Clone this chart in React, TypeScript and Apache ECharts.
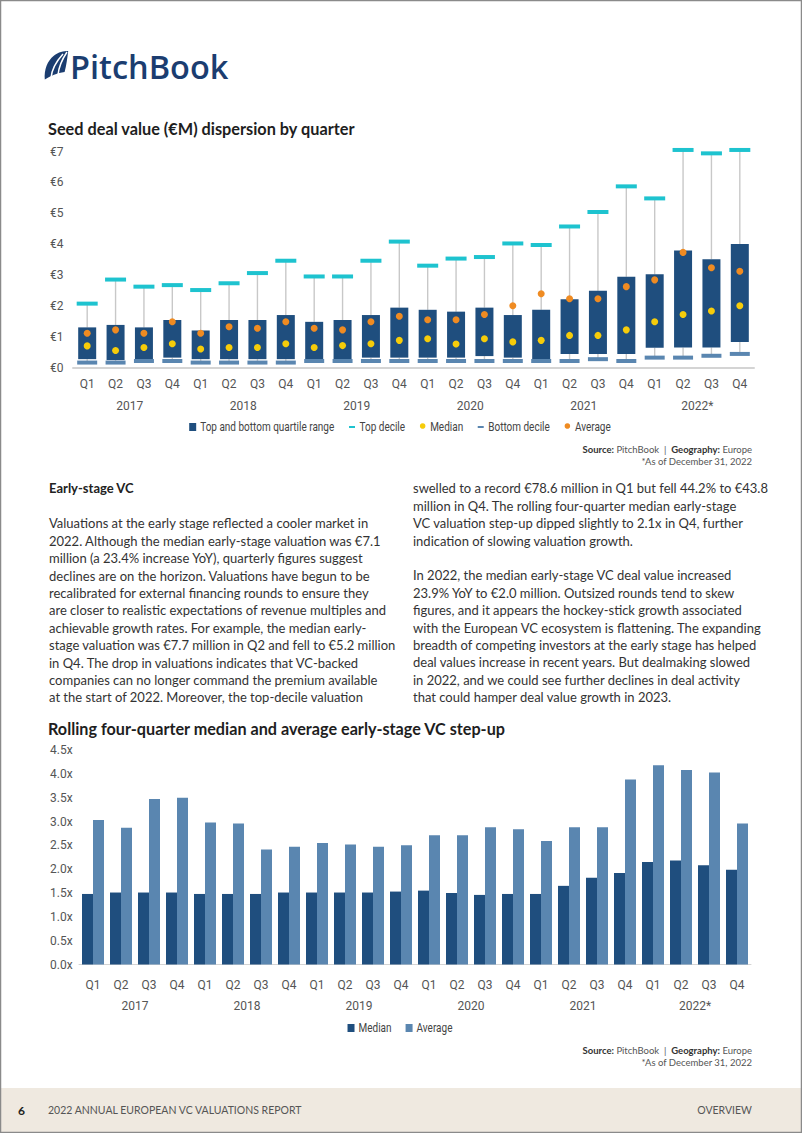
import React, { useEffect, useRef } from "react";
import * as echarts from "echarts";

const quarters = [
  "Q1", "Q2", "Q3", "Q4", "Q1", "Q2", "Q3", "Q4", "Q1", "Q2", "Q3", "Q4",
  "Q1", "Q2", "Q3", "Q4", "Q1", "Q2", "Q3", "Q4", "Q1", "Q2", "Q3", "Q4",
];
const years = ["2017", "2018", "2019", "2020", "2021", "2022*"];

// Seed deal value (€M) dispersion
const topDecile = [2.07, 2.85, 2.62, 2.67, 2.51, 2.73, 3.06, 3.46, 2.95, 2.95, 3.46, 4.08, 3.3, 3.53, 3.58, 4.02, 3.97, 4.57, 5.04, 5.87, 5.48, 7.05, 6.94, 7.05];
const upperQuartile = [1.3, 1.38, 1.3, 1.54, 1.2, 1.54, 1.54, 1.7, 1.48, 1.54, 1.7, 1.94, 1.87, 1.81, 1.94, 1.7, 1.87, 2.21, 2.49, 2.94, 3.02, 3.79, 3.51, 4.0];
const lowerQuartile = [0.27, 0.24, 0.27, 0.32, 0.27, 0.27, 0.27, 0.27, 0.27, 0.27, 0.32, 0.32, 0.32, 0.32, 0.37, 0.32, 0.24, 0.44, 0.44, 0.44, 0.64, 0.65, 0.65, 0.83];
const bottomDecile = [0.16, 0.16, 0.21, 0.21, 0.16, 0.16, 0.16, 0.16, 0.21, 0.21, 0.21, 0.21, 0.21, 0.21, 0.21, 0.21, 0.21, 0.21, 0.27, 0.21, 0.32, 0.32, 0.38, 0.44];
const medianDeal = [0.7, 0.55, 0.65, 0.77, 0.6, 0.65, 0.65, 0.77, 0.65, 0.71, 0.77, 0.88, 0.93, 0.76, 0.93, 0.83, 0.88, 1.04, 1.04, 1.22, 1.48, 1.72, 1.83, 2.0];
const averageDeal = [1.11, 1.22, 1.11, 1.48, 1.11, 1.32, 1.27, 1.48, 1.27, 1.22, 1.48, 1.66, 1.55, 1.55, 1.72, 2.0, 2.39, 2.23, 2.23, 2.62, 2.84, 3.73, 3.23, 3.12];

// Rolling four-quarter step-up
const medianStep = [1.48, 1.51, 1.51, 1.51, 1.48, 1.48, 1.48, 1.51, 1.51, 1.51, 1.51, 1.53, 1.55, 1.5, 1.46, 1.48, 1.48, 1.65, 1.82, 1.92, 2.15, 2.18, 2.08, 1.99];
const averageStep = [3.03, 2.87, 3.47, 3.5, 2.98, 2.96, 2.41, 2.47, 2.55, 2.52, 2.47, 2.5, 2.71, 2.71, 2.88, 2.84, 2.59, 2.88, 2.88, 3.88, 4.18, 4.08, 4.03, 2.96];

const legendLabels = ["Top and bottom quartile range", "Top decile", "Median", "Bottom decile", "Average"];
const legend2Labels = ["Median", "Average"];

const leftColumn = [
  "Valuations at the early stage reflected a cooler market in",
  "2022. Although the median early-stage valuation was €7.1",
  "million (a 23.4% increase YoY), quarterly figures suggest",
  "declines are on the horizon. Valuations have begun to be",
  "recalibrated for external financing rounds to ensure they",
  "are closer to realistic expectations of revenue multiples and",
  "achievable growth rates. For example, the median early-",
  "stage valuation was €7.7 million in Q2 and fell to €5.2 million",
  "in Q4. The drop in valuations indicates that VC-backed",
  "companies can no longer command the premium available",
  "at the start of 2022. Moreover, the top-decile valuation",
];
const rightColumn = [
  "swelled to a record €78.6 million in Q1 but fell 44.2% to €43.8",
  "million in Q4. The rolling four-quarter median early-stage",
  "VC valuation step-up dipped slightly to 2.1x in Q4, further",
  "indication of slowing valuation growth.",
  "",
  "In 2022, the median early-stage VC deal value increased",
  "23.9% YoY to €2.0 million. Outsized rounds tend to skew",
  "figures, and it appears the hockey-stick growth associated",
  "with the European VC ecosystem is flattening. The expanding",
  "breadth of competing investors at the early stage has helped",
  "deal values increase in recent years. But dealmaking slowed",
  "in 2022, and we could see further declines in deal activity",
  "that could hamper deal value growth in 2023.",
];

const NAVY = "#1f4e7e";
const STEEL = "#5a86b0";
const CYAN = "#1ec3cf";
const YELLOW = "#f6cc0a";
const ORANGE = "#ef8b22";
const COND = "Roboto, sans-serif";
const BODY = 'Lato, "Open Sans", sans-serif';

const SAIL =
  "M2,30 C1,20 5,10 12,5 C17,1 23,0 28,0 C27,8 26,15 24,22 C16,23 8,26 2,30 Z";

let registered = false;

function measure(text: string, font: string) {
  const ctx = document.createElement("canvas").getContext("2d");
  if (!ctx) return text.length * 6;
  ctx.font = font;
  return ctx.measureText(text).width;
}

// condensed-looking legend built from graphic elements
function buildLegend(labels: string[], kinds: string[], colors: string[], cy: number, itemGap: number) {
  const lfs = 12.5;
  const sx = 0.8;
  const lfont = `${lfs}px ${COND}`;
  const iconW = 7;
  const iconGap = 4;
  const widths = labels.map((l) => measure(l, lfont) * sx);
  const total = widths.reduce((a, w) => a + iconW + iconGap + w, 0) + itemGap * (labels.length - 1);
  let lx = 400 - total / 2;
  const out: any[] = [];
  labels.forEach((label, i) => {
    const k = kinds[i];
    if (k === "sq") {
      out.push({ type: "rect", shape: { x: lx, y: cy - 4, width: 7, height: 8 }, style: { fill: colors[i] } });
    } else if (k === "dash") {
      out.push({ type: "rect", shape: { x: lx + 0.5, y: cy - 1, width: 6, height: 2 }, style: { fill: colors[i] } });
    } else {
      out.push({ type: "circle", shape: { cx: lx + 3.5, cy: cy - 1, r: 2.8 }, style: { fill: colors[i] } });
    }
    out.push({
      type: "text", x: lx + iconW + iconGap, y: cy, scaleX: sx,
      style: { text: label, fontFamily: COND, fontSize: lfs, fill: "#444", verticalAlign: "middle" },
    });
    lx += iconW + iconGap + widths[i] + itemGap;
  });
  return out;
}

export default function App() {
  const ref = useRef<HTMLDivElement>(null);

  useEffect(() => {
    if (!ref.current) return;
    if (!registered) {
      echarts.graphic.registerShape("logo", echarts.graphic.extendPath(SAIL, {}));
      registered = true;
    }
    const chart = echarts.init(ref.current, undefined, { renderer: "svg" });

    const bodyText = (lines: string[], x: number, y0: number) =>
      lines.map((t, i) => ({
        type: "text",
        x,
        y: y0 + i * 17.4,
        silent: true,
        style: {
          text: t,
          fontFamily: BODY,
          fontSize: 13,
          fill: "#333",
          verticalAlign: "middle",
        },
      }));

    const legend1 = buildLegend(legendLabels, ["sq", "dash", "dot", "dash", "dot"], [NAVY, CYAN, YELLOW, STEEL, ORANGE], 427, 14);
    const legend2 = buildLegend(legend2Labels, ["sq", "sq"], [NAVY, STEEL], 1028, 14);

    const sourceLines = (yTop: number) => [
      {
        type: "text",
        x: 752,
        y: yTop,
        style: {
          text: "{b|Source:}{n| PitchBook  |  }{b|Geography:}{n| Europe}",
          align: "right",
          verticalAlign: "middle",
          rich: {
            b: { fontFamily: BODY, fontSize: 9.5, fontWeight: "bold", fill: "#333" },
            n: { fontFamily: BODY, fontSize: 9.5, fill: "#555" },
          },
        },
      },
      {
        type: "text",
        x: 752,
        y: yTop + 12,
        style: { text: "*As of December 31, 2022", fontFamily: BODY, fontSize: 9.5, fill: "#555", align: "right", verticalAlign: "middle" },
      },
    ];

    const axisLabelStyle = { color: "#555", fontFamily: COND, fontSize: 12 };

    const option: any = {
      animation: false,
      backgroundColor: "#ffffff",
      grid: [
        { left: 73, top: 151.5, width: 681, height: 216 },
        { left: 79, top: 750, width: 672, height: 214.5 },
      ],
      xAxis: [
        {
          type: "category", gridIndex: 0, data: quarters,
          axisLine: { lineStyle: { color: "#d4d4d4", width: 2 } },
          axisTick: { show: false },
          axisLabel: { ...axisLabelStyle, margin: 10, interval: 0 },
        },
        {
          type: "category", gridIndex: 0, data: years, position: "bottom", offset: 22,
          axisLine: { show: false }, axisTick: { show: false },
          axisLabel: { ...axisLabelStyle, margin: 10, interval: 0 },
        },
        {
          type: "category", gridIndex: 1, data: quarters,
          axisLine: { lineStyle: { color: "#d4d4d4", width: 1 } },
          axisTick: { show: false },
          axisLabel: { ...axisLabelStyle, margin: 14, interval: 0 },
        },
        {
          type: "category", gridIndex: 1, data: years, position: "bottom", offset: 21,
          axisLine: { show: false }, axisTick: { show: false },
          axisLabel: { ...axisLabelStyle, margin: 14, interval: 0 },
        },
      ],
      yAxis: [
        {
          type: "value", gridIndex: 0, min: 0, max: 7, interval: 1,
          splitLine: { show: false }, axisLine: { show: false }, axisTick: { show: false },
          axisLabel: { ...axisLabelStyle, align: "left", margin: 23, formatter: (v: number) => "€" + v },
        },
        {
          type: "value", gridIndex: 1, min: 0, max: 4.5, interval: 0.5,
          splitLine: { show: false }, axisLine: { show: false }, axisTick: { show: false },
          axisLabel: { ...axisLabelStyle, align: "left", margin: 29, formatter: (v: number) => v.toFixed(1) + "x" },
        },
      ],
      series: [
        {
          name: "Top and bottom quartile range",
          type: "custom",
          xAxisIndex: 0,
          yAxisIndex: 0,
          data: quarters.map((_, i) => [i, lowerQuartile[i], upperQuartile[i], bottomDecile[i], topDecile[i]]),
          encode: { x: 0, y: [1, 2, 3, 4] },
          renderItem: (params: any, api: any) => {
            const i = api.value(0);
            const lo = api.coord([i, api.value(1)]);
            const hi = api.coord([i, api.value(2)]);
            const bd = api.coord([i, api.value(3)]);
            const td = api.coord([i, api.value(4)]);
            const w = 18;
            return {
              type: "group",
              children: [
                { type: "line", shape: { x1: td[0], y1: td[1], x2: hi[0], y2: hi[1] }, style: { stroke: "#c8c8c8", lineWidth: 1.4 } },
                { type: "line", shape: { x1: lo[0], y1: lo[1], x2: bd[0], y2: bd[1] }, style: { stroke: "#c8c8c8", lineWidth: 1.4 } },
                { type: "rect", shape: { x: hi[0] - w / 2, y: hi[1], width: w, height: lo[1] - hi[1] }, style: { fill: NAVY } },
              ],
            };
          },
          z: 2,
        },
        {
          name: "Top decile", type: "scatter", xAxisIndex: 0, yAxisIndex: 0,
          data: topDecile, symbol: "rect", symbolSize: [21, 4], clip: false,
          itemStyle: { color: CYAN, opacity: 1 }, z: 3,
        },
        {
          name: "Bottom decile", type: "scatter", xAxisIndex: 0, yAxisIndex: 0,
          data: bottomDecile, symbol: "rect", symbolSize: [20, 4], clip: false,
          itemStyle: { color: STEEL, opacity: 1 }, z: 3,
        },
        {
          name: "Median deal", type: "scatter", xAxisIndex: 0, yAxisIndex: 0,
          data: medianDeal, symbol: "circle", symbolSize: 7,
          itemStyle: { color: YELLOW, opacity: 1 }, z: 4,
        },
        {
          name: "Average deal", type: "scatter", xAxisIndex: 0, yAxisIndex: 0,
          data: averageDeal, symbol: "circle", symbolSize: 7,
          itemStyle: { color: ORANGE, opacity: 1 }, z: 4,
        },
        {
          name: "Median", type: "bar", xAxisIndex: 2, yAxisIndex: 1,
          data: medianStep, barWidth: 11, barGap: "0%",
          itemStyle: { color: NAVY },
        },
        {
          name: "Average", type: "bar", xAxisIndex: 2, yAxisIndex: 1,
          data: averageStep, barWidth: 11, barGap: "0%",
          itemStyle: { color: STEEL },
        },
      ],
      graphic: [
        // page border
        { type: "rect", shape: { x: 0.5, y: 0.5, width: 801, height: 1132 }, style: { fill: "none", stroke: "#8a8a8a", lineWidth: 1.5 }, z: 100 },
        // footer band
        { type: "rect", shape: { x: 1, y: 1088, width: 800, height: 44 }, style: { fill: "#efe9e0" } },
        { type: "text", x: 18, y: 1110, style: { text: "6", fontFamily: BODY, fontSize: 12, fontWeight: "bold", fill: "#222", verticalAlign: "middle" } },
        { type: "text", x: 48, y: 1110, style: { text: "2022 ANNUAL EUROPEAN VC VALUATIONS REPORT", fontFamily: BODY, fontSize: 10.5, fill: "#555", verticalAlign: "middle" } },
        { type: "text", x: 752, y: 1110, style: { text: "OVERVIEW", fontFamily: BODY, fontSize: 10.5, fill: "#555", align: "right", verticalAlign: "middle" } },
        // logo
        { type: "logo", x: 43, y: 51, scaleX: 0.9, scaleY: 0.95, style: { fill: "#1b3d70" } },
        { type: "bezierCurve", shape: { x1: 8, y1: 27, cpx1: 9, cpy1: 15, x2: 20, y2: 3 }, x: 43, y: 51, style: { stroke: "#fff", lineWidth: 1.5, fill: "none" } },
        { type: "bezierCurve", shape: { x1: 15, y1: 24, cpx1: 16, cpy1: 13, x2: 24, y2: 1 }, x: 43, y: 51, style: { stroke: "#fff", lineWidth: 1.5, fill: "none" } },
        { type: "text", x: 70, y: 66, style: { text: "PitchBook", fontFamily: '"Open Sans", sans-serif', fontSize: 32.5, fontWeight: 600, fill: "#1b3d70", verticalAlign: "middle" } },
        // titles
        { type: "text", x: 48, y: 128, style: { text: "Seed deal value (€M) dispersion by quarter", fontFamily: BODY, fontSize: 16.3, fontWeight: "bold", fill: "#1e1e1e", verticalAlign: "middle" } },
        { type: "text", x: 48, y: 728, style: { text: "Rolling four-quarter median and average early-stage VC step-up", fontFamily: BODY, fontSize: 16.2, fontWeight: "bold", fill: "#1e1e1e", verticalAlign: "middle" } },
        ...legend1,
        ...legend2,
        ...sourceLines(449),
        ...sourceLines(1050),
        { type: "text", x: 49, y: 488.3, style: { text: "Early-stage VC", fontFamily: BODY, fontSize: 13, fontWeight: "bold", fill: "#222", verticalAlign: "middle" } },
        ...bodyText(leftColumn, 49, 523.3),
        ...bodyText(rightColumn, 413, 488.3),
      ],
    };

    chart.setOption(option);
    return () => chart.dispose();
  }, []);

  return (
    <div
      ref={ref}
      style={{ position: "absolute", left: 0, top: 0, width: 802, height: 1133, background: "#fff" }}
    />
  );
}
